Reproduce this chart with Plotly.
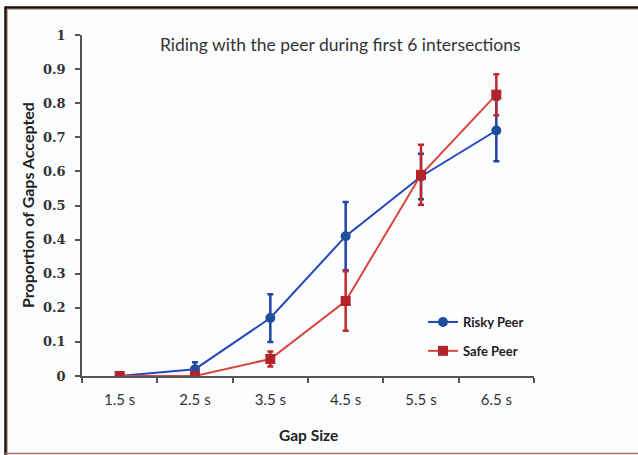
import plotly.graph_objects as go

categories = ["1.5 s", "2.5 s", "3.5 s", "4.5 s", "5.5 s", "6.5 s"]
risky = [0.0, 0.02, 0.17, 0.41, 0.585, 0.72]
risky_err = [0.0, 0.02, 0.07, 0.10, 0.067, 0.09]
safe = [0.0, 0.0, 0.05, 0.22, 0.59, 0.825]
safe_err = [0.0, 0.0, 0.022, 0.087, 0.088, 0.06]
yticks = [0, 0.1, 0.2, 0.3, 0.4, 0.5, 0.6, 0.7, 0.8, 0.9, 1]
ytick_labels = ["0", "0.1", "0.2", "0.3", "0.4", "0.5", "0.6", "0.7", "0.8", "0.9", "1"]

W, H = 638, 455
L, R, T, B = 82, 104, 35, 79
pw, ph = W - L - R, H - T - B


def px_x(p):
    return (p - L) / pw


def px_y(p):
    return (H - B - p) / ph


fig = go.Figure()
fig.add_trace(go.Scatter(
    x=categories, y=risky, name="Risky Peer", mode="lines+markers",
    line=dict(color="#2447b8", width=2),
    marker=dict(symbol="circle", size=10, color="#1f4e9c"),
    error_y=dict(type="data", array=risky_err, visible=True, color="#1f45a8",
                 thickness=2.5, width=3),
    legendgroup="a",
))
fig.add_trace(go.Scatter(
    x=categories, y=safe, name="Safe Peer", mode="lines+markers",
    line=dict(color="#d8463c", width=2),
    marker=dict(symbol="square", size=10, color="#b3232a"),
    error_y=dict(type="data", array=safe_err, visible=True, color="#c0282c",
                 thickness=2.5, width=3),
    legendgroup="b",
))

fig.update_layout(
    width=W, height=H,
    margin=dict(l=L, r=R, t=T, b=B),
    paper_bgcolor="#fcfdff", plot_bgcolor="#fcfdff",
    showlegend=True,
    legend=dict(x=px_x(423), y=px_y(307), xanchor="left", yanchor="top",
                bgcolor="rgba(0,0,0,0)", tracegroupgap=9,
                font=dict(family="Lato", size=13, color="#222", weight="bold"),
                itemwidth=30),
    font=dict(family="Lato", color="#333"),
)
fig.update_xaxes(
    type="category", range=[-0.5, 5.5], showline=True, linecolor="#555", linewidth=1.5,
    ticks="outside", tickson="boundaries", ticklen=5, tickcolor="#555", tickwidth=1.5,
    showgrid=False, zeroline=False, ticklabelstandoff=9,
    tickfont=dict(family="Lato", size=15, color="#333"),
)
fig.update_yaxes(
    range=[0, 1], tickvals=yticks, ticktext=ytick_labels, showline=True,
    linecolor="#555", linewidth=1.5, ticks="outside", ticklen=5, tickcolor="#555",
    tickwidth=1.5, showgrid=False, zeroline=False, ticklabelstandoff=7,
    tickfont=dict(family="DejaVu Serif", size=13, color="#333", weight="bold"),
)

fig.add_annotation(text="Riding with the peer during first 6 intersections",
                   xref="paper", yref="paper", x=px_x(340), y=px_y(45),
                   xanchor="center", yanchor="middle", showarrow=False,
                   font=dict(family="Lato", size=17.5, color="#333"))
fig.add_annotation(text="<b>Proportion of Gaps Accepted</b>",
                   xref="paper", yref="paper", x=px_x(27), y=px_y(205),
                   xanchor="center", yanchor="middle", textangle=-90, showarrow=False,
                   font=dict(family="Lato", size=16, color="#222"))
fig.add_annotation(text="<b>Gap Size</b>",
                   xref="paper", yref="paper", x=px_x(308), y=px_y(435),
                   xanchor="center", yanchor="middle", showarrow=False,
                   font=dict(family="Lato", size=15.5, color="#222"))

# picture frame
fig.add_shape(type="line", xref="paper", yref="paper", x0=px_x(5), x1=px_x(640),
              y0=px_y(7.5), y1=px_y(7.5), line=dict(color="#111", width=2.5))
fig.add_shape(type="line", xref="paper", yref="paper", x0=px_x(7), x1=px_x(640),
              y0=px_y(9.5), y1=px_y(9.5), line=dict(color="#e7a58a", width=1))
fig.add_shape(type="line", xref="paper", yref="paper", x0=px_x(5.5), x1=px_x(5.5),
              y0=px_y(6.5), y1=px_y(455), line=dict(color="#111", width=2.5))
fig.add_shape(type="line", xref="paper", yref="paper", x0=px_x(7.5), x1=px_x(7.5),
              y0=px_y(9), y1=px_y(455), line=dict(color="#d9a08a", width=1))
fig.add_shape(type="line", xref="paper", yref="paper", x0=px_x(5), x1=px_x(640),
              y0=px_y(453.5), y1=px_y(453.5), line=dict(color="#a47a6a", width=1.5))

fig.write_html("out.html", config={"displayModeBar": False},
               post_script="document.body.style.margin='0';document.body.style.overflow='hidden';")
